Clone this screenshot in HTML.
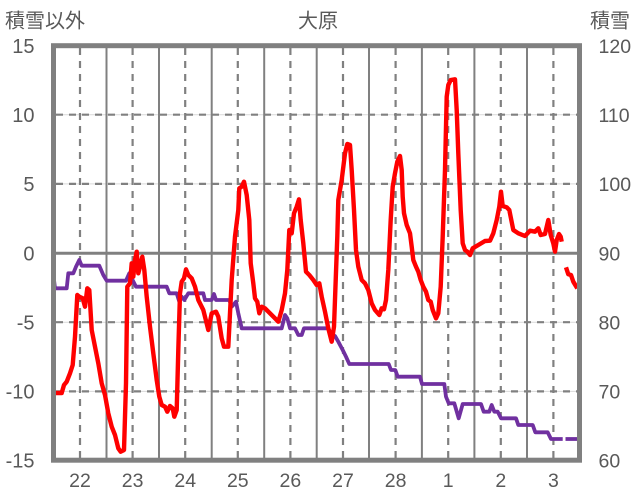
<!DOCTYPE html>
<html><head><meta charset="utf-8"><style>
html,body{margin:0;padding:0;background:#fff;}
svg{display:block;}
text{font-family:"Liberation Sans","Noto Sans CJK JP",sans-serif;fill:#595959;}
</style></head><body>
<svg width="636" height="501" viewBox="0 0 636 501" xmlns="http://www.w3.org/2000/svg">
<rect x="0" y="0" width="636" height="501" fill="#fff"/>
<!-- light horizontal grid -->
<g stroke="#d9d9d9" stroke-width="1">
<line x1="53.5" y1="114.7" x2="579.5" y2="114.7"/>
<line x1="53.5" y1="183.9" x2="579.5" y2="183.9"/>
<line x1="53.5" y1="322.2" x2="579.5" y2="322.2"/>
<line x1="53.5" y1="391.4" x2="579.5" y2="391.4"/>
</g>
<!-- dashed horizontal -->
<g stroke="#808080" stroke-width="2.2" stroke-dasharray="7,6">
<line x1="56" y1="114.7" x2="578" y2="114.7"/>
<line x1="56" y1="183.9" x2="578" y2="183.9"/>
<line x1="56" y1="322.2" x2="578" y2="322.2"/>
<line x1="56" y1="391.4" x2="578" y2="391.4"/>
</g>
<!-- dashed vertical (noon) -->
<g stroke="#808080" stroke-width="2.2" stroke-dasharray="7,6">
<line x1="80" y1="48" x2="80" y2="458"/>
<line x1="132.6" y1="48" x2="132.6" y2="458"/>
<line x1="185.2" y1="48" x2="185.2" y2="458"/>
<line x1="237.8" y1="48" x2="237.8" y2="458"/>
<line x1="290.4" y1="48" x2="290.4" y2="458"/>
<line x1="343" y1="48" x2="343" y2="458"/>
<line x1="395.6" y1="48" x2="395.6" y2="458"/>
<line x1="448.2" y1="48" x2="448.2" y2="458"/>
<line x1="500.8" y1="48" x2="500.8" y2="458"/>
<line x1="553.4" y1="48" x2="553.4" y2="458"/>
</g>
<!-- solid vertical (day boundaries) -->
<g stroke="#808080" stroke-width="2">
<line x1="106.5" y1="46" x2="106.5" y2="460"/>
<line x1="159" y1="46" x2="159" y2="460"/>
<line x1="211.7" y1="46" x2="211.7" y2="460"/>
<line x1="264.2" y1="46" x2="264.2" y2="460"/>
<line x1="316.7" y1="46" x2="316.7" y2="460"/>
<line x1="369" y1="46" x2="369" y2="460"/>
<line x1="421.9" y1="46" x2="421.9" y2="460"/>
<line x1="474.4" y1="46" x2="474.4" y2="460"/>
<line x1="527" y1="46" x2="527" y2="460"/>
</g>
<!-- zero line -->
<line x1="53.5" y1="253.2" x2="579.5" y2="253.2" stroke="#808080" stroke-width="3"/>
<!-- purple series -->
<polyline fill="none" stroke="#7030a0" stroke-width="3.8" stroke-linejoin="round" points="54,280 55,288.3 66.7,288.3 68.3,273.3 73.3,273.3 76,266.7 79.3,260 81.7,265.7 99.3,265.7 103.3,275 106.7,280.7 126,280.7 129.3,273.3 131.7,278.3 136,286.7 166.7,286.7 169.3,293.3 176.7,293.3 179.3,301.7 181.7,296.7 184.3,300 188.3,293.3 203.3,293.3 205,300 211.7,300 214,294 216,300 229.3,300 231.7,306.7 233.3,305 236,301.7 238.3,313.3 241.7,328.3 281.7,328.3 285,315 287.3,318.3 290,328.3 295,328.3 298.3,335 301.7,335 304,328.3 328.3,328.3 331.7,335 335,336 338.3,341.7 342.7,350 346,356.7 349.3,364 388.7,364 391,370 395.3,370 397.7,376.7 420,376.7 422,384 444.3,384 446,396.7 448.7,403.3 454.3,403.3 458.7,418.3 462.7,404 481,404 483.7,411.7 489.3,411.7 491.7,405 494.3,411.7 497.7,411.7 501,418.3 516,418.3 518.3,425 532.7,425 535.3,432.3 547.7,432.3 551,439 562.7,439"/>
<polyline fill="none" stroke="#7030a0" stroke-width="3.8" points="565.5,439 578.3,439"/>
<!-- red series -->
<polyline fill="none" stroke="#ff0000" stroke-width="4.4" stroke-linejoin="round" points="53.3,393 61.7,393 64,385 66.7,381.7 70,373.3 72.7,365 75,336.7 77.3,295 79.3,296.7 82.7,298.3 85,306.7 87.3,288.3 89.3,290 91.7,330 95,346.7 98.3,363.3 101.7,383.3 105,395 108.3,413.3 111.7,426.7 115,435 118.3,448.3 120.7,451.7 124,450 126,383.3 127.3,286.7 130,283.3 131.7,263.3 133.3,276.7 135,260 136.7,251.7 138.3,273.3 140,266.7 142.3,256.7 144.3,270 146.7,296.7 150,326.7 153.3,353.3 156.7,380 159.3,396.7 161.7,405 165,406.7 167.3,411.7 170,406 172.7,408.3 174.3,416.7 176.7,410 178.3,350 180,293.3 181.7,281.7 184,278.3 186,269.3 188.3,275 191.7,278.3 195,286.7 198.3,300 203.3,310 208.3,330 211.7,313.3 216,311.7 218.3,316.7 221.7,338.3 224,346.7 228.3,346.7 231.7,280 235,236.7 238.3,210 239.3,188.3 241.7,186.7 244,181.7 246.7,195 249.3,220 250.7,263.3 253.3,283.3 255,298.3 257.3,301.7 259.3,313.3 261.7,306.7 265,308.3 270,313.3 275,318.3 278.3,321.7 281.7,310 285,293.3 287.3,270 289.3,230 291.7,233.3 294,213.3 296.7,206.7 299,199.3 300.7,220 303.3,243.3 306,271.7 309.3,275 313.3,280 316.7,285 319.3,283.3 321.7,296.7 325,311.7 328.3,328.3 331.7,341.7 334,326.7 337.3,236.7 338.3,200 341.7,180 345,153.3 347.3,144 350,145 351.7,170 354,210 356,250 358.3,266.7 361.7,280 365,283.3 368.3,290 371.7,303.3 375,310 379.3,315 381.7,308.3 384,309.3 386,300 388.3,270 390.7,220 392.7,186.7 395,173.3 397.3,161.7 400,156 401.7,170 402.7,196.7 404,213.3 406.7,225 410,233.3 411.7,246.7 413.3,260 416,266.7 418.3,271.7 420.7,280 423.3,286.7 426,291.7 428.3,300 430.7,301.7 432.7,310 436,318.3 438.3,313.3 440.7,286.7 442.7,236.7 445,170 446.7,96.7 448.3,85 450.7,80 455,79.3 456.7,110 458.3,153.3 460.7,210 462.7,243.3 465,250 467.3,251.7 470,255 472.7,248.3 478.3,245 485,241 490,240.7 493.3,233.3 496.7,220 499.3,206.7 501,191.7 502.7,206 506.7,207.3 509.3,210 513.3,230 518.3,233.3 525,236 530,230.7 535,231.7 538.3,228.3 540.7,235 545,234 548.3,220 550.7,235 553.3,243.3 555,251.7 556.7,240 559,234 560.7,236.7 561.7,241.7"/>
<polyline fill="none" stroke="#ff0000" stroke-width="4.4" stroke-linejoin="round" points="566,267.3 568.3,274.3 571,275 573.3,281.7 577.3,288.3"/>
<!-- plot border -->
<rect x="53.5" y="45.7" width="526" height="414.5" fill="none" stroke="#808080" stroke-width="5"/>
<!-- left axis labels -->
<g font-size="20" text-anchor="end">
<text x="34.5" y="53">15</text>
<text x="34.5" y="122">10</text>
<text x="34.5" y="191">5</text>
<text x="34.5" y="260.5">0</text>
<text x="34.5" y="329.5">-5</text>
<text x="34.5" y="398.5">-10</text>
<text x="34.5" y="467.5">-15</text>
</g>
<!-- right axis labels -->
<g font-size="19.5" text-anchor="start">
<text x="598.5" y="53">120</text>
<text x="598.5" y="122">110</text>
<text x="598.5" y="191">100</text>
<text x="598.5" y="260.5">90</text>
<text x="598.5" y="329.5">80</text>
<text x="598.5" y="398.5">70</text>
<text x="598.5" y="467.5">60</text>
</g>
<!-- x labels -->
<g font-size="19.5" text-anchor="middle">
<text x="80" y="487">22</text>
<text x="132.6" y="487">23</text>
<text x="185.2" y="487">24</text>
<text x="237.8" y="487">25</text>
<text x="290.4" y="487">26</text>
<text x="343" y="487">27</text>
<text x="395.6" y="487">28</text>
<text x="448.2" y="487">1</text>
<text x="500.8" y="487">2</text>
<text x="553.4" y="487">3</text>
</g>
<!-- titles -->
<text x="5" y="27.5" font-size="20">積雪以外</text>
<text x="318" y="27.5" font-size="20" text-anchor="middle">大原</text>
<text x="590" y="27.5" font-size="20">積雪</text>
</svg>
</body></html>
